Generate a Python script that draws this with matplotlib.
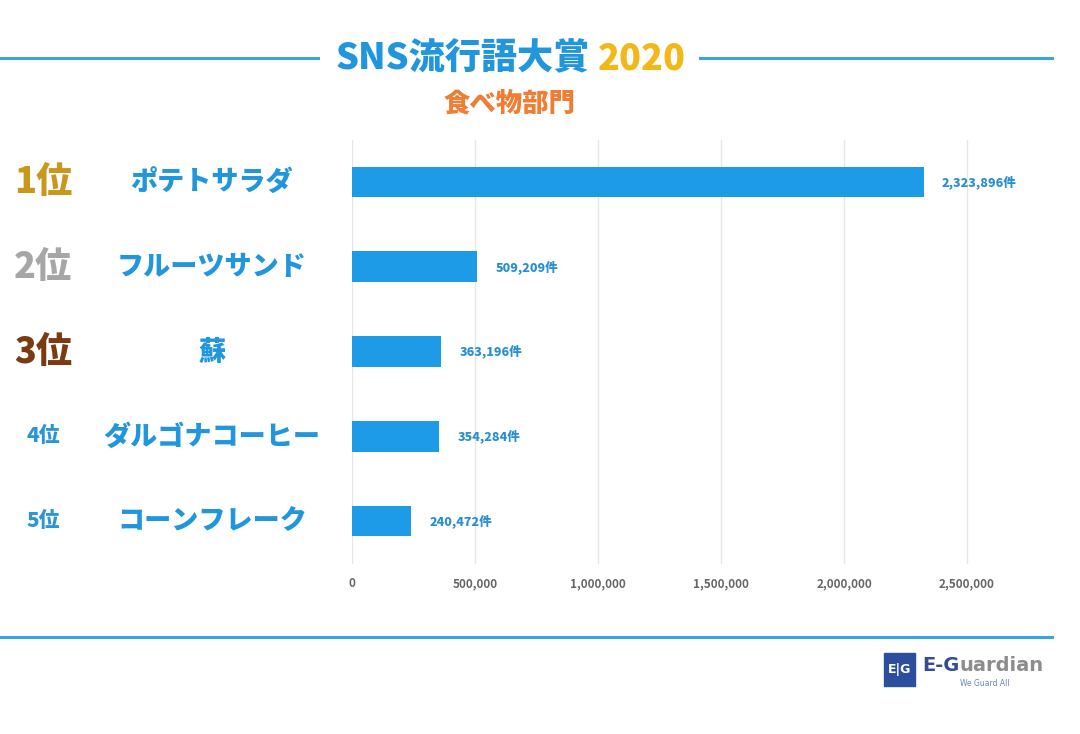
import matplotlib
matplotlib.use("Agg")
import matplotlib.pyplot as plt
from matplotlib.lines import Line2D
from matplotlib.patches import Rectangle
from matplotlib.ticker import FuncFormatter

plt.rcParams['font.family'] = ['Noto Sans CJK JP', 'DejaVu Sans']

ranks = ["1位", "2位", "3位", "4位", "5位"]
foods = ["ポテトサラダ", "フルーツサンド", "蘇", "ダルゴナコーヒー", "コーンフレーク"]
counts = [2323896, 509209, 363196, 354284, 240472]
xticks = [0, 500000, 1000000, 1500000, 2000000, 2500000]

BLUE = "#1d9be6"
TITLE_BLUE = "#2196dc"
rank_colors = ["#c9971c", "#a6a6a6", "#7b3b12", "#2a96d8", "#2a96d8"]
rank_sizes = [26, 26, 26, 15, 15]
HEAVY = 900

W, H = 1080, 734
fig = plt.figure(figsize=(W / 100, H / 100), dpi=100)
fig.patch.set_facecolor("white")

def fx(px):
    return px / W

def fy(py):
    return 1 - py / H

xmax = 2750000
px_per_unit = 123 / 500000
ax_left, ax_right = 352, 352 + xmax * px_per_unit
ax_top, ax_bot = 139.5, 563.5
ax = fig.add_axes([fx(ax_left), fy(ax_bot), fx(ax_right - ax_left), (ax_bot - ax_top) / H])

ypos = list(range(len(foods)))
ax.barh(ypos, counts, height=0.36, color=BLUE, zorder=3)
ax.set_ylim(len(foods) - 0.5, -0.5)
ax.set_xlim(0, xmax)
ax.set_xticks(xticks)
ax.xaxis.set_major_formatter(FuncFormatter(lambda v, p: f"{int(v):,}"))
ax.tick_params(axis="x", length=0, pad=10, labelsize=8.5, labelcolor="#666666")
for lab in ax.get_xticklabels():
    lab.set_fontweight("bold")
ax.set_yticks([])
ax.grid(axis="x", color="#e6e6e6", linewidth=1, zorder=0)
for s in ax.spines.values():
    s.set_visible(False)

for y, v in zip(ypos, counts):
    ax.annotate(f"{v:,}件", (v, y), xytext=(13, 0), textcoords="offset points",
                ha="left", va="center", fontsize=9, color="#2a8fd0", fontweight=HEAVY)

# left labels
for i, (r, f) in enumerate(zip(ranks, foods)):
    ypx = 182 + i * 84.8
    fig.text(fx(43), fy(ypx), r, ha="center", va="center", fontsize=rank_sizes[i],
             color=rank_colors[i], fontweight=HEAVY)
    fig.text(fx(212), fy(ypx), f, ha="center", va="center", fontsize=19.5,
             color=TITLE_BLUE, fontweight=HEAVY)

# title
fig.text(fx(590), fy(58), "SNS流行語大賞", ha="right", va="center", fontsize=26,
         color=TITLE_BLUE, fontweight=HEAVY)
fig.text(fx(598), fy(58), "2020", ha="left", va="center", fontsize=26,
         color="#f2b817", fontweight=HEAVY)
fig.text(fx(510), fy(103), "食べ物部門", ha="center", va="center", fontsize=19,
         color="#ef7d33", fontweight=HEAVY)

line_c = "#3aa3e0"
fig.add_artist(Line2D([fx(0), fx(318)], [fy(58), fy(58)], color=line_c, linewidth=2.2))
fig.add_artist(Line2D([fx(700), fx(1052)], [fy(58), fy(58)], color=line_c, linewidth=2.2))
fig.add_artist(Line2D([fx(0), fx(1052)], [fy(637), fy(637)], color=line_c, linewidth=2.2))

# logo
fig.add_artist(Rectangle((fx(884), fy(686)), fx(31), 33 / H, color="#2b4f9c",
                         transform=fig.transFigure))
fig.text(fx(899.5), fy(669), "E|G", ha="center", va="center", fontsize=9,
         color="white", fontweight="bold", family="DejaVu Sans")
eg = fig.text(fx(922), fy(671), "E-G", ha="left", va="baseline", fontsize=14,
              color="#334f8f", family="DejaVu Sans", fontweight="bold")
ax.annotate("uardian", xy=(1, 0), xycoords=eg, ha="left", va="bottom", fontsize=14,
            color="#8c8c8c", family="DejaVu Sans", fontweight="bold",
            annotation_clip=False)
fig.text(fx(985), fy(683), "We Guard All", ha="center", va="center", fontsize=5.5,
         color="#6b84b8", family="DejaVu Sans")

fig.savefig("out.png", dpi=100, facecolor="white")
